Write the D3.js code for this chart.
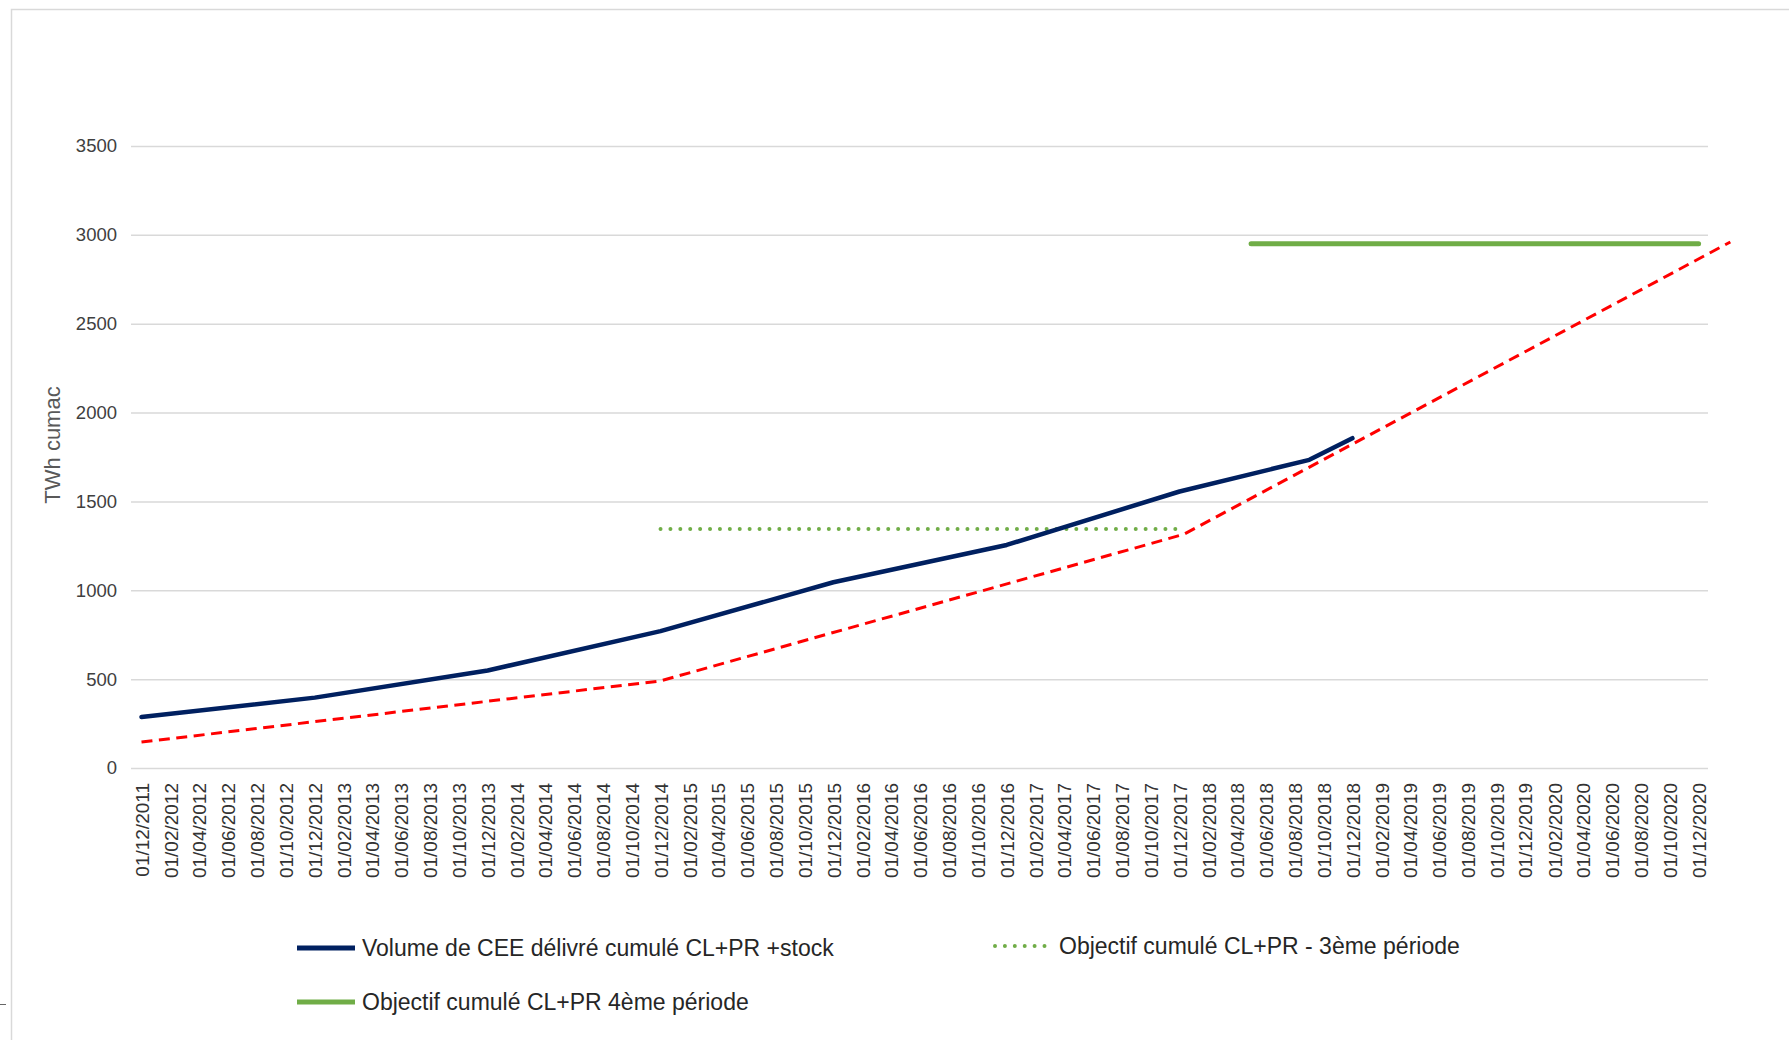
<!DOCTYPE html>
<html>
<head>
<meta charset="utf-8">
<style>
  body { margin: 0; background: #fff; }
  svg { display: block; font-family: "Liberation Sans", Arial, sans-serif; }
</style>
</head>
<body>
<svg id="chart"></svg>

<script src="https://cdn.jsdelivr.net/npm/d3@7/dist/d3.min.js"></script>
<script>

  var parseDate = d3.timeParse("%d/%m/%Y");
  var formatDate = d3.timeFormat("%d/%m/%Y");

  // axis range
  var firstDate = "01/12/2011";
  var lastDate = "01/12/2020";
  var yTicks = [0, 500, 1000, 1500, 2000, 2500, 3000, 3500];

  // Volume de CEE délivré cumulé CL+PR +stock
  var volumeDates = ["01/12/2011", "01/12/2012", "01/12/2013", "01/12/2014", "01/12/2015",
                     "01/12/2016", "01/12/2017", "01/09/2018", "01/12/2018"];
  var volumeValues = [287, 396, 549, 770, 1045, 1255, 1556, 1734, 1856];

  // Objectif cumulé CL+PR - 3ème période
  var obj3Dates = ["01/12/2014", "01/12/2017"];
  var obj3Values = [1345, 1345];

  // Objectif cumulé CL+PR 4ème période
  var obj4Dates = ["01/05/2018", "01/12/2020"];
  var obj4Values = [2950, 2950];

  // red dashed trajectory (drawn over the chart, goes past the axis end)
  var trendDates = ["01/12/2011", "01/12/2014", "10/12/2017", "06/02/2021"];
  var trendValues = [146, 490, 1315, 2960];

  var legendLabels = ["Volume de CEE délivré cumulé CL+PR +stock",
                      "Objectif cumulé CL+PR - 3ème période",
                      "Objectif cumulé CL+PR 4ème période"];

  var width = 1789, height = 1040;
  var gridLeft = 131, gridRight = 1708;

  var svg = d3.select("#chart")
    .attr("width", width)
    .attr("height", height);

  svg.append("rect")
    .attr("width", width)
    .attr("height", height)
    .attr("fill", "#fff");

  // chart area border
  svg.append("path")
    .attr("d", "M11.5," + height + "V9.5H" + width)
    .attr("fill", "none")
    .attr("stroke", "#d9d9d9")
    .attr("stroke-width", 1.5);

  svg.append("line")
    .attr("x1", 0).attr("x2", 6)
    .attr("y1", 1004.5).attr("y2", 1004.5)
    .attr("stroke", "#666");

  var xScale = d3.scaleTime()
    .domain([parseDate(firstDate), parseDate(lastDate)])
    .range([141.5, 1698.6]);

  var yScale = d3.scaleLinear()
    .domain([0, 3500])
    .range([768, 146]);

  // y axis + gridlines
  var yAxis = d3.axisLeft(yScale)
    .tickValues(yTicks)
    .tickSize(-(gridRight - gridLeft))
    .tickPadding(14)
    .tickFormat(d3.format("d"));

  var yG = svg.append("g")
    .attr("transform", "translate(" + gridLeft + ",0)")
    .call(yAxis);
  yG.select(".domain").remove();
  yG.selectAll("line")
    .attr("stroke", "#d9d9d9")
    .attr("stroke-width", 1.5);
  yG.selectAll("text")
    .attr("font-size", 18.5)
    .attr("font-family", "Liberation Sans, Arial, sans-serif")
    .attr("fill", "#404040");

  // x axis, a label every two months
  var tickDates = d3.timeMonth.range(parseDate(firstDate),
    d3.timeDay.offset(parseDate(lastDate), 1), 2);

  var xAxis = d3.axisBottom(xScale)
    .tickValues(tickDates)
    .tickSize(0)
    .tickFormat(formatDate);

  var xG = svg.append("g")
    .attr("transform", "translate(0,768)")
    .call(xAxis);
  xG.select(".domain").remove();
  xG.selectAll("text")
    .attr("font-size", 19)
    .attr("font-family", "Liberation Sans, Arial, sans-serif")
    .attr("fill", "#333")
    .attr("text-anchor", "end")
    .attr("transform", "translate(0,15) rotate(-90)")
    .attr("x", 0)
    .attr("y", 0)
    .attr("dy", "0.35em");

  // y title
  svg.append("text")
    .attr("transform", "translate(52,445) rotate(-90)")
    .attr("text-anchor", "middle")
    .attr("dy", "0.35em")
    .attr("font-size", 22)
    .attr("fill", "#595959")
    .text("TWh cumac");

  function toPoints(dates, values) {
    return dates.map(function(d, i) {
      return {date: parseDate(d), value: values[i]};
    });
  }

  var line = d3.line()
    .x(function(d) { return xScale(d.date); })
    .y(function(d) { return yScale(d.value); });

  svg.append("path")
    .datum(toPoints(trendDates, trendValues))
    .attr("d", line)
    .attr("fill", "none")
    .attr("stroke", "#ff0000")
    .attr("stroke-width", 3)
    .attr("stroke-dasharray", "11,6.5");

  svg.append("path")
    .datum(toPoints(obj3Dates, obj3Values))
    .attr("d", line)
    .attr("fill", "none")
    .attr("stroke", "#70ad47")
    .attr("stroke-width", 4)
    .attr("stroke-linecap", "round")
    .attr("stroke-dasharray", "0,9.9");

  svg.append("path")
    .datum(toPoints(obj4Dates, obj4Values))
    .attr("d", line)
    .attr("fill", "none")
    .attr("stroke", "#70ad47")
    .attr("stroke-width", 5)
    .attr("stroke-linecap", "round");

  svg.append("path")
    .datum(toPoints(volumeDates, volumeValues))
    .attr("d", line)
    .attr("fill", "none")
    .attr("stroke", "#002060")
    .attr("stroke-width", 4.5)
    .attr("stroke-linejoin", "round")
    .attr("stroke-linecap", "round");

  // legend
  var legendItems = [
    {label: legendLabels[0], x: 297, y: 948, color: "#002060", dash: null},
    {label: legendLabels[1], x: 993, y: 946, color: "#70ad47", dash: "0,9.9"},
    {label: legendLabels[2], x: 297, y: 1002, color: "#70ad47", dash: null}
  ];

  var legend = svg.selectAll(".legend")
    .data(legendItems)
    .enter().append("g")
    .attr("class", "legend")
    .attr("transform", function(d) { return "translate(" + d.x + "," + d.y + ")"; });

  legend.append("line")
    .attr("x1", function(d) { return d.dash ? 2 : 0; })
    .attr("x2", function(d) { return d.dash ? 54 : 58; })
    .attr("stroke", function(d) { return d.color; })
    .attr("stroke-width", function(d) { return d.dash ? 4 : 5; })
    .attr("stroke-linecap", function(d) { return d.dash ? "round" : "butt"; })
    .attr("stroke-dasharray", function(d) { return d.dash; });

  legend.append("text")
    .attr("x", function(d) { return d.dash ? 66 : 65; })
    .attr("dy", "0.35em")
    .attr("font-size", 23)
    .attr("fill", "#262626")
    .text(function(d) { return d.label; });

</script>
</body>
</html>
